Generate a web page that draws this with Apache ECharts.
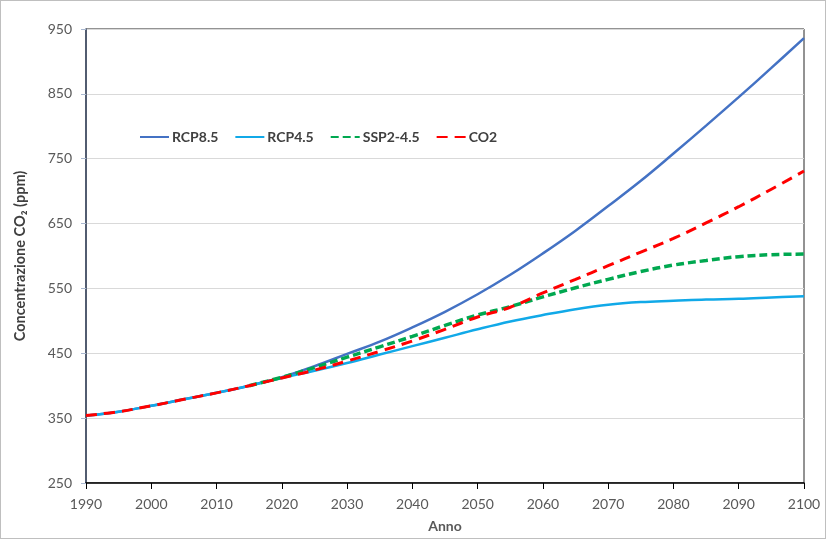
<!DOCTYPE html>
<html>
<head>
<meta charset="utf-8">
<script src="https://cdn.jsdelivr.net/npm/echarts@6/dist/echarts.min.js"></script>
<style>
html,body{margin:0;padding:0;background:#fff;}
#wrap{position:relative;width:827px;height:540px;}
#chart{position:absolute;left:0;top:0;width:827px;height:540px;}
#frame{position:absolute;left:0;top:0;width:824px;height:537px;border:1px solid #bfbfbf;pointer-events:none;}
</style>
</head>
<body>
<div id="wrap"><div id="chart"></div><div id="frame"></div></div>
<script>
const years = [1990,1995,2000,2005,2010,2015,2020,2025,2030,2035,2040,2045,2050,2055,2060,2065,2070,2075,2080,2085,2090,2095,2100];
const rcp85 = [354,360,369,379,389,400,413,430,449,468,490,514,541,571,604,639,677,716,758,801,845,890,936];
const rcp45 = [354,360,369,379,389,400,412,423,435,448,461,474,487,499,509,518,525,529,531,533,534,536,538];
const ssp245Years = [2015,2020,2025,2030,2035,2040,2045,2050,2055,2060,2065,2070,2075,2080,2085,2090,2095,2100];
const ssp245 = [400,413,428,444,460,476,493,509,522,537,551,564,576,586,593,599,602,603];
const co2 = [354,360,369,379,389,400,412,424,438,453,469,487,506,521,543,564,585,606,627,651,676,703,731];
const xTicks = {min:1990, max:2100, step:10};
const yTicks = {min:250, max:950, step:100};

function pairs(xs, ys){ return xs.map((x,i)=>[x, ys[i]]); }

const chart = echarts.init(document.getElementById('chart'));
const font = 'Lato, "Open Sans", sans-serif';
chart.setOption({
  animation:false,
  textStyle:{fontFamily:font},
  grid:{left:86, right:23, top:29, bottom:57, show:true, borderColor:'#262626', borderWidth:1, backgroundColor:'transparent'},
  legend:{
    left:134, top:125, itemWidth:29, itemHeight:14, itemGap:16,
    itemStyle:{opacity:0},
    textStyle:{fontFamily:font, fontSize:14, fontWeight:'bold', color:'#404040', padding:[0,0,0,-2]},
    data:['RCP8.5','RCP4.5','SSP2-4.5','CO2']
  },
  xAxis:{
    type:'value', min:xTicks.min, max:xTicks.max, interval:xTicks.step,
    name:'Anno', nameLocation:'middle', nameGap:36,
    nameTextStyle:{fontFamily:font, fontSize:14, fontWeight:'bold', color:'#595959'},
    axisLine:{lineStyle:{color:'#000', width:1.5}},
    axisTick:{show:true, length:6, lineStyle:{color:'#000'}},
    axisLabel:{fontFamily:font, fontSize:14, color:'#595959', margin:14, formatter:(v)=>String(v)},
    splitLine:{show:false}
  },
  yAxis:{
    type:'value', min:yTicks.min, max:yTicks.max, interval:yTicks.step,
    name:'Concentrazione CO₂ (ppm)', nameLocation:'middle', nameGap:58,
    nameTextStyle:{fontFamily:font, fontSize:14.5, fontWeight:'bold', color:'#404040'},
    axisLine:{show:true, lineStyle:{color:'#3e4b66', width:1.5}},
    axisTick:{show:true, length:5, lineStyle:{color:'#a9b8d0'}},
    axisLabel:{fontFamily:font, fontSize:14, color:'#595959', margin:14},
    splitLine:{show:true, lineStyle:{color:'#d9d9d9', width:1}}
  },
  series:[
    {name:'RCP8.5', type:'line', data:pairs(years, rcp85), smooth:0.4, symbol:'none',
     lineStyle:{color:'#4472C4', width:2.5}, itemStyle:{color:'#4472C4'}, z:2},
    {name:'RCP4.5', type:'line', data:pairs(years, rcp45), smooth:0.4, symbol:'none',
     lineStyle:{color:'#11A9E8', width:2.5}, itemStyle:{color:'#11A9E8'}, z:2},
    {name:'SSP2-4.5', type:'line', data:pairs(ssp245Years, ssp245), smooth:0.4, symbol:'none',
     lineStyle:{color:'#00A850', width:3.5, type:[8,4]}, itemStyle:{color:'#00A850'}, z:3},
    {name:'CO2', type:'line', data:pairs(years, co2), smooth:0.4, symbol:'none',
     lineStyle:{color:'#FF0000', width:3, type:[11,7]}, itemStyle:{color:'#FF0000'}, z:4}
  ]
});
</script>
</body>
</html>
